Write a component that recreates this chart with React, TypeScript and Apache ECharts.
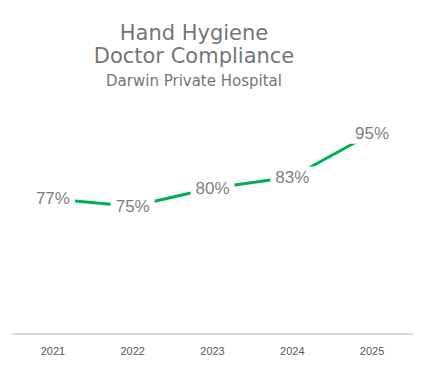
import React, { useEffect, useRef } from "react";
import * as echarts from "echarts";

const years = ["2021", "2022", "2023", "2024", "2025"];
const compliance = [77, 75, 80, 83, 95];

const titleLines = ["Hand Hygiene", "Doctor Compliance"];
const subtitle = "Darwin Private Hospital";

export default function App() {
  const ref = useRef<HTMLDivElement>(null);

  useEffect(() => {
    if (!ref.current) return;
    const chart = echarts.init(ref.current, undefined, { renderer: "svg" });
    const titleFont = "'DejaVu Sans', sans-serif";
    chart.setOption({
      animation: false,
      backgroundColor: "#ffffff",
      graphic: [
        {
          type: "text",
          x: 194,
          y: 33,
          style: {
            text: titleLines[0],
            fill: "#767676",
            font: `21px ${titleFont}`,
            align: "center",
            verticalAlign: "middle",
          },
        },
        {
          type: "text",
          x: 194,
          y: 56,
          style: {
            text: titleLines[1],
            fill: "#767676",
            font: `21px ${titleFont}`,
            align: "center",
            verticalAlign: "middle",
          },
        },
        {
          type: "text",
          x: 194,
          y: 81,
          style: {
            text: subtitle,
            fill: "#767676",
            font: `15px ${titleFont}`,
            align: "center",
            verticalAlign: "middle",
          },
        },
      ],
      grid: { left: 13, right: 12, top: 115, bottom: 31 },
      xAxis: {
        type: "category",
        data: years,
        boundaryGap: true,
        axisLine: { lineStyle: { color: "#d9d9d9", width: 2 } },
        axisTick: { show: false },
        axisLabel: {
          color: "#595959",
          fontSize: 11,
          fontFamily: "'Liberation Sans', Arial, sans-serif",
          margin: 11,
        },
      },
      yAxis: {
        type: "value",
        min: 40,
        max: 100,
        show: false,
        splitLine: { show: false },
      },
      series: [
        {
          type: "line",
          data: compliance,
          symbol: "circle",
          symbolSize: 1,
          showSymbol: true,
          itemStyle: { color: "rgba(0,0,0,0)" },
          lineStyle: { color: "#00b050", width: 3 },
          label: {
            show: true,
            position: "inside",
            formatter: "{c}%",
            color: "#7f7f7f",
            fontSize: 17,
            fontFamily: "'Liberation Sans', Arial, sans-serif",
            backgroundColor: "#ffffff",
            padding: [2, 5],
          },
        },
      ],
    });
    return () => chart.dispose();
  }, []);

  return <div ref={ref} style={{ width: 424, height: 365, margin: -8 }} />;
}
